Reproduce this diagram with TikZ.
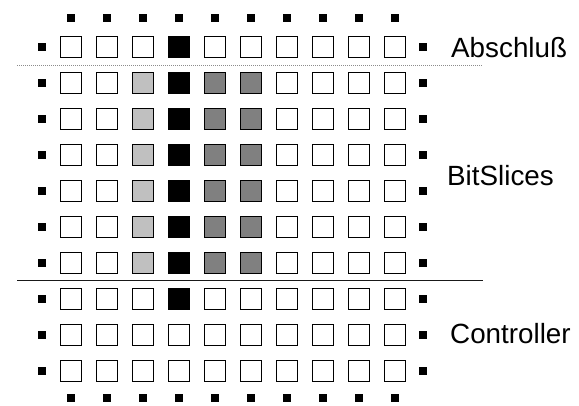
\documentclass[tikz,border=0pt]{standalone}
\usepackage{fontspec}
\setmainfont{Liberation Sans}
\definecolor{lightcell}{HTML}{C0C0C0}
\definecolor{darkcell}{HTML}{808080}
\begin{document}
\begin{tikzpicture}[x=1pt,y=-1pt,
  cell/.style={draw=black, line width=1.2pt, minimum size=21pt, inner sep=0pt},
  pin/.style={fill=black, minimum size=8.5pt, inner sep=0pt},
  lbl/.style={anchor=base west, inner sep=0pt, font=\fontsize{27.8}{32}\selectfont},
  thinsep/.style={draw=black!45, line width=0.8pt, dash pattern=on 1pt off 1pt},
  boldsep/.style={draw=black!90, line width=1pt}]
\useasboundingbox (0,0) rectangle (579,405);

% 10 x 10 array of cells
\foreach \r in {1,...,10}{
  \foreach \c in {1,...,10}{
    \def\fc{white}
    \ifnum\c=4 \ifnum\r<9 \def\fc{black}\fi\fi
    \ifnum\r>1 \ifnum\r<8
      \ifnum\c=3 \def\fc{lightcell}\fi
      \ifnum\c=5 \def\fc{darkcell}\fi
      \ifnum\c=6 \def\fc{darkcell}\fi
    \fi\fi
    \node[cell, fill=\fc] (cell-\r-\c) at ({71+36*(\c-1)}, {47+36*(\r-1)}) {};
  }
}

% connection pins on all four sides
\foreach \c in {1,...,10}{
  \node[pin] (top-\c) at ({71+36*(\c-1)}, 18) {};
  \node[pin] (bot-\c) at ({71+36*(\c-1)}, 398) {};
}
\foreach \r in {1,...,10}{
  \node[pin] (left-\r) at (42, {47+36*(\r-1)}) {};
  \node[pin] (right-\r) at (423, {47+36*(\r-1)}) {};
}

% separators between the sections
\coordinate (sepA-l) at (17,65);
\coordinate (sepA-r) at (483,65);
\coordinate (sepB-l) at (17,280);
\coordinate (sepB-r) at (483,280);
\draw[thinsep] (sepA-l) -- (sepA-r);
\draw[boldsep] (sepB-l) -- (sepB-r);

% section labels
\node[lbl] (abschluss) at (451,57) {Abschluß};
\node[lbl] (bitslices) at (447,185) {BitSlices};
\node[lbl] (controller) at (450,343) {Controller};
\end{tikzpicture}
\end{document}
